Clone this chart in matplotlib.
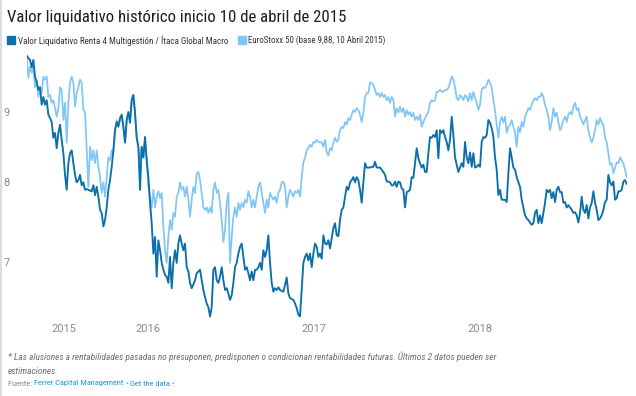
import os
import matplotlib
matplotlib.use('Agg')
import matplotlib.pyplot as plt
import matplotlib.ticker as mticker
from matplotlib import font_manager as fm
from matplotlib.lines import Line2D
from matplotlib.patches import Rectangle
import numpy as np
import pandas as pd

# ---------------- data ----------------
START_DATE = '2015-04-10'
END_DATE = '2018-11-20'

fund_2015_2016 = [
    9.89, 9.85, 9.82, 9.70, 9.82, 9.55, 9.46, 9.34, 9.38, 9.11,
    9.23, 9.11, 9.18, 8.96, 8.91, 8.85, 8.62, 8.69, 8.47, 8.69,
    8.81, 8.59, 8.40, 8.10, 7.90, 8.26, 8.40, 8.44, 8.26, 8.10,
    8.00, 8.03, 8.10, 7.96, 8.00, 7.90, 7.91, 7.90, 7.89, 7.88,
    7.96, 7.83, 7.94, 7.81, 7.64, 7.60, 7.43, 7.51, 7.67, 7.90,
    8.03, 8.21, 8.44, 8.73, 8.85, 8.78, 8.91, 8.96, 8.78, 8.55,
    8.88, 9.00, 8.84, 9.18, 9.26, 8.99, 8.62, 8.49, 7.90, 8.49,
    8.34, 8.63, 8.30, 8.07, 7.73, 7.47, 7.10, 7.30, 6.83, 7.26,
    7.14, 6.99, 6.91, 6.85, 6.83, 6.76, 7.06, 6.70, 6.99, 7.14,
    6.99, 7.22, 7.32, 7.22, 7.14, 7.22, 6.94, 6.89, 6.76, 6.70,
    6.74, 6.79, 6.87, 6.89, 6.91, 6.79, 6.68, 6.60, 6.53, 6.49,
    6.39, 6.49, 6.91, 6.94, 6.79, 6.76, 6.83, 6.94, 6.79, 6.68,
    6.70, 6.64, 6.57, 6.62, 6.76, 6.94, 6.99, 7.10, 7.18, 7.22,
    7.06, 6.91, 6.94, 6.87, 6.79, 6.89, 6.79, 6.91, 6.91, 6.94,
    6.99, 6.91, 7.14, 7.06, 7.14, 7.32, 6.99, 6.76, 6.66, 6.70,
    6.68, 6.71, 6.68, 6.67, 6.66, 6.74, 6.82, 6.64, 6.59, 6.58,
    6.57, 6.53, 6.48, 6.41, 6.39, 6.68, 6.99, 7.06, 7.10, 7.02,
    7.10, 6.94, 7.10, 7.22, 7.18, 7.06,
]
fund_2017_2018 = [
    7.10, 7.04, 7.32, 7.22, 7.21, 7.26, 7.16, 7.28, 7.41, 7.47,
    7.32, 7.31, 7.51, 7.64, 7.67, 7.81, 7.94, 7.90, 8.00, 8.03,
    8.07, 8.00, 8.07, 8.03, 7.90, 7.73, 8.00, 8.26, 8.20, 8.20,
    8.20, 8.21, 8.21, 8.28, 8.20, 8.20, 8.20, 8.17, 8.14, 8.10,
    8.01, 8.01, 8.00, 7.96, 7.96, 8.01, 7.94, 8.01, 8.00, 7.92,
    7.90, 7.67, 7.87, 7.88, 7.90, 8.07, 8.06, 8.26, 8.47, 8.33,
    8.26, 8.20, 8.24, 8.14, 8.14, 8.40, 8.63, 8.62, 8.66, 8.63,
    8.73, 8.33, 8.73, 8.69, 8.73, 8.63, 8.56, 8.44, 8.59, 8.93,
    8.66, 8.34, 8.24, 8.14, 8.20, 8.26, 8.21, 8.56, 8.34, 8.26,
    8.41, 8.21, 8.40, 8.20, 8.21, 8.24, 8.21, 8.56, 8.63, 8.62,
    8.66, 8.88, 8.84, 8.76, 8.63, 8.34, 8.17, 7.83, 7.90, 7.77,
    7.77, 7.77, 7.74, 8.12, 8.47, 8.34, 8.20, 8.17, 8.07, 8.00,
    7.94, 7.77, 7.67, 7.57, 7.53, 7.51, 7.48, 7.45, 7.47, 7.60,
    7.64, 7.47, 7.57, 7.47, 7.60, 7.73, 7.90, 7.87, 7.90, 7.79,
    7.87, 7.74, 7.90, 7.94, 7.87, 7.87, 7.73, 7.74, 7.67, 7.70,
    7.67, 7.64, 7.60, 7.61, 7.57, 7.48, 7.60, 7.81, 7.64, 7.60,
    7.70, 7.53, 7.67, 7.73, 7.88, 7.73, 7.64, 7.51, 7.53, 7.57,
    7.64, 7.74, 7.77, 8.10, 8.00, 7.96, 8.01, 7.77, 7.79, 7.88,
    7.88, 7.90, 8.01, 8.03, 7.98,
]

stoxx_2015_2016 = [
    9.89, 9.53, 9.71, 9.61, 9.71, 9.38, 9.50, 9.23, 9.38, 9.29,
    9.55, 9.50, 9.55, 9.23, 9.26, 9.14, 9.18, 9.06, 8.93, 9.06,
    9.38, 9.34, 8.88, 9.14, 8.55, 9.14, 9.45, 9.55, 9.45, 9.08,
    9.29, 9.38, 9.50, 9.45, 9.03, 9.00, 8.44, 7.94, 8.49, 8.30,
    8.44, 8.26, 8.44, 8.21, 8.07, 7.86, 8.00, 7.81, 8.07, 8.34,
    8.30, 8.44, 8.40, 8.73, 8.88, 8.81, 8.88, 8.93, 8.78, 8.55,
    8.88, 9.00, 8.84, 9.18, 9.26, 8.99, 8.62, 8.49, 8.30, 8.49,
    8.34, 8.63, 8.30, 7.94, 7.81, 7.67, 7.90, 7.67, 7.81, 7.88,
    7.79, 7.86, 7.43, 7.14, 6.99, 7.30, 7.51, 7.39, 7.60, 7.55,
    7.81, 7.86, 8.00, 7.90, 7.94, 7.81, 7.94, 7.77, 7.55, 7.77,
    7.94, 7.86, 8.12, 8.14, 8.03, 7.86, 7.67, 7.64, 7.67, 7.60,
    7.67, 7.60, 7.90, 8.00, 7.86, 7.90, 7.73, 7.51, 7.24, 7.39,
    7.73, 7.86, 6.99, 7.30, 7.55, 7.67, 7.55, 7.73, 7.64, 7.73,
    7.67, 7.77, 7.73, 7.88, 7.81, 7.67, 7.77, 7.67, 7.81, 7.94,
    8.00, 7.86, 7.73, 7.60, 7.77, 7.67, 7.86, 7.81, 7.77, 7.81,
    7.73, 7.86, 7.90, 8.00, 8.01, 7.94, 7.67, 7.81, 7.90, 7.86,
    7.81, 7.88, 7.86, 7.90, 7.81, 8.07, 8.27, 8.34, 8.44, 8.47,
    8.52, 8.49, 8.56, 8.55, 8.59, 8.56,
]
stoxx_2017_2018 = [
    8.55, 8.56, 8.49, 8.59, 8.41, 8.37, 8.47, 8.44, 8.55, 8.62,
    8.56, 8.59, 8.73, 8.78, 8.76, 8.85, 8.81, 8.91, 8.88, 8.96,
    9.03, 9.00, 9.06, 9.03, 8.96, 8.85, 8.99, 9.23, 9.29, 9.29,
    9.46, 9.45, 9.42, 9.34, 9.26, 9.29, 9.23, 9.29, 9.23, 9.26,
    9.18, 9.23, 9.14, 9.23, 9.18, 8.93, 9.06, 8.99, 9.08, 9.00,
    9.06, 8.93, 9.03, 8.96, 9.00, 8.93, 8.99, 8.88, 8.93, 8.88,
    8.96, 8.78, 8.85, 8.91, 8.96, 9.00, 9.14, 9.18, 9.16, 9.18,
    9.31, 9.31, 9.34, 9.31, 9.31, 9.34, 9.34, 9.37, 9.45, 9.55,
    9.50, 9.38, 9.21, 9.18, 9.26, 9.23, 9.18, 9.26, 9.23, 9.16,
    9.29, 9.18, 9.31, 9.21, 9.14, 9.03, 9.11, 9.34, 9.38, 9.37,
    9.42, 9.50, 9.45, 9.38, 9.18, 9.03, 8.81, 8.62, 8.85, 8.93,
    8.84, 8.93, 8.69, 8.78, 8.81, 8.88, 8.78, 8.70, 8.49, 8.78,
    8.70, 8.85, 8.78, 8.93, 8.99, 9.06, 9.03, 9.11, 9.18, 9.21,
    9.18, 9.23, 9.23, 9.29, 9.23, 9.11, 9.03, 8.93, 8.73, 8.85,
    9.06, 8.93, 8.99, 8.85, 8.73, 8.78, 8.88, 8.93, 8.85, 8.96,
    9.00, 8.96, 9.08, 9.14, 9.03, 9.06, 8.93, 8.88, 8.81, 8.88,
    8.93, 8.73, 8.63, 8.55, 8.62, 8.73, 8.88, 8.81, 8.91, 8.85,
    8.81, 8.63, 8.55, 8.40, 8.24, 8.26, 8.12, 8.20, 8.27, 8.26,
    8.34, 8.30, 8.26, 8.17, 8.07,
]

fund = fund_2015_2016 + fund_2017_2018
stoxx = stoxx_2015_2016 + stoxx_2017_2018
fund_dates = pd.date_range(START_DATE, END_DATE, periods=len(fund))
stoxx_dates = pd.date_range(START_DATE, END_DATE, periods=len(stoxx))

y_ticks = [7, 8, 9]
x_tick_dates = ['2015-07-01', '2016-01-01', '2017-01-01', '2018-01-01']
x_tick_labels = ['2015', '2016', '2017', '2018']

title = 'Valor liquidativo histórico inicio 10 de abril de 2015'
series_names = ['Valor Liquidativo Renta 4 Multigestión / Ítaca Global Macro',
                'EuroStoxx 50 (base 9,88, 10 Abril 2015)']
note_1 = ('* Las alusiones a rentabilidades pasadas no presuponen, predisponen o condicionan '
          'rentabilidades futuras. Últimos 2 datos pueden ser')
note_2 = 'estimaciones.'
source_name = 'Ferrer Capital Management'

# ---------------- style ----------------
DARK = '#0b70a9'
LIGHT = '#80c6f6'
W, H = 636, 396


def _is_regular_weight(w):
    return w in (400, 'normal', 'regular', 'book', 'Regular', 'Book')


def find_narrow(italic=False):
    """Look for an installed condensed / narrow sans face (Datawrapper used Roboto Condensed)."""
    ranks = [('roboto condensed', 0), ('robotocondensed', 0), ('liberation sans narrow', 1),
             ('liberationsansnarrow', 1), ('semicondensed', 2), ('semi condensed', 2),
             ('open sans condensed', 3), ('dejavu sans condensed', 4), ('dejavusanscondensed', 4),
             ('condensed', 5), ('narrow', 5)]
    best = None
    for f in fm.fontManager.ttflist:
        key = (f.name + ' ' + os.path.basename(f.fname)).lower()
        if 'extra' in key or 'ultra' in key or 'mono' in key or 'serif' in key:
            continue
        if not _is_regular_weight(f.weight) and 'bold' in key:
            continue
        if 'bold' in key or 'light' in key or 'thin' in key or 'medium' in key or 'black' in key:
            continue
        is_it = f.style in ('italic', 'oblique')
        if is_it != italic:
            continue
        for kw, r in ranks:
            if kw in key:
                if best is None or r < best[0]:
                    best = (r, f.fname)
                break
    return best[1] if best else None


narrow_path = find_narrow(False)
narrow_it_path = find_narrow(True)
if narrow_path:
    FP = fm.FontProperties(fname=narrow_path)
    FP_IT = fm.FontProperties(fname=narrow_it_path) if narrow_it_path else fm.FontProperties(
        fname=narrow_path)
    SIZE_BOOST = 1.0
else:
    FP = fm.FontProperties(family='Roboto')
    FP_IT = fm.FontProperties(family='Roboto', style='italic')
    SIZE_BOOST = 1.08
TICKFONT = 'Roboto'

fig = plt.figure(figsize=(W / 100, H / 100), dpi=100)
fig.patch.set_facecolor('white')
renderer = fig.canvas.get_renderer()

# plot area in pixel units (top/bottom in image coordinates)
left_px, right_px, top_px, bottom_px = 26.7, 626.7, 50, 322
ax = fig.add_axes([left_px / W, 1 - bottom_px / H,
                   (right_px - left_px) / W, (bottom_px - top_px) / H])
ax.set_yscale('log')
ref_v, ref_px, px_per_ln = 9.0, 112.0, 597.0
ax.set_ylim(ref_v * np.exp(-(bottom_px - ref_px) / px_per_ln),
            ref_v * np.exp((ref_px - top_px) / px_per_ln))
ax.set_xlim(pd.Timestamp(START_DATE), pd.Timestamp(END_DATE))

ax.plot(stoxx_dates, stoxx, color=LIGHT, lw=1.25, solid_joinstyle='round', zorder=2)
ax.plot(fund_dates, fund, color=DARK, lw=1.35, solid_joinstyle='round', zorder=3)

for s in ax.spines.values():
    s.set_visible(False)
ax.yaxis.set_major_locator(mticker.FixedLocator(y_ticks))
ax.yaxis.set_minor_locator(mticker.NullLocator())
ax.set_yticklabels([str(v) for v in y_ticks])
ax.set_xticks(pd.to_datetime(x_tick_dates))
ax.set_xticklabels(x_tick_labels)
ax.xaxis.set_minor_locator(mticker.NullLocator())
ax.tick_params(axis='y', length=0, pad=12, labelsize=8, labelcolor='#8a8a8a')
ax.tick_params(axis='x', length=0, pad=1.5, labelsize=8, labelcolor='#8a8a8a')
for lab in ax.get_xticklabels() + ax.get_yticklabels():
    lab.set_fontfamily(TICKFONT)


# ---------------- text ----------------
def fx(x):
    return x / W


def fy(y):
    return 1 - y / H


def fit_text(x, y, s, target_w, fp, **kw):
    fp = fp.copy()
    fp.set_size(10)
    t = fig.text(fx(x), fy(y), s, fontproperties=fp, va='center', ha='left', **kw)
    w = t.get_window_extent(renderer=renderer).width
    t.set_fontsize(10 * target_w / w * SIZE_BOOST)
    return t


fit_text(7, 17.5, title, 338, FP, color='#1d1d1d')

# legend
fig.patches.append(Rectangle((fx(7.3), fy(44)), 7.5 / W, 8 / H, transform=fig.transFigure,
                             color=DARK, figure=fig))
fit_text(17.5, 40.5, series_names[0], 210, FP, color='#333333')
fig.patches.append(Rectangle((fx(238), fy(44)), 7.5 / W, 8 / H, transform=fig.transFigure,
                             color=LIGHT, figure=fig))
fit_text(248.5, 40.5, series_names[1], 137, FP, color='#333333')

# notes
t1 = fit_text(8, 357, note_1, 488, FP_IT, color='#6e6e6e')
fp2 = FP_IT.copy()
fp2.set_size(t1.get_fontsize())
fig.text(fx(8), fy(371), note_2, fontproperties=fp2, color='#6e6e6e', va='center', ha='left')

# source line drawn piece by piece, scaled to the reference width
pieces = [('Fuente: ', '#8a8a8a'), (source_name, '#1a9ad6'), (' • ', '#8a8a8a'),
          ('Get the data', '#1a9ad6'), (' •', '#8a8a8a')]
fp3 = FP.copy()
fp3.set_size(10)
probe = fig.text(0, 0, ''.join(p[0] for p in pieces), fontproperties=fp3)
src_size = 10 * 168 / probe.get_window_extent(renderer=renderer).width * SIZE_BOOST
probe.remove()
fp3.set_size(src_size)
x_cur = 8
for txt, col in pieces:
    t = fig.text(fx(x_cur), fy(383.5), txt, fontproperties=fp3, color=col,
                 va='center', ha='left')
    x_cur += t.get_window_extent(renderer=renderer).width

# left border of the frame
fig.add_artist(Line2D([fx(0.8), fx(0.8)], [0, 1], color='#dcdcdc', lw=1.5,
                      transform=fig.transFigure))

fig.savefig('out.png', dpi=100, facecolor='white')
